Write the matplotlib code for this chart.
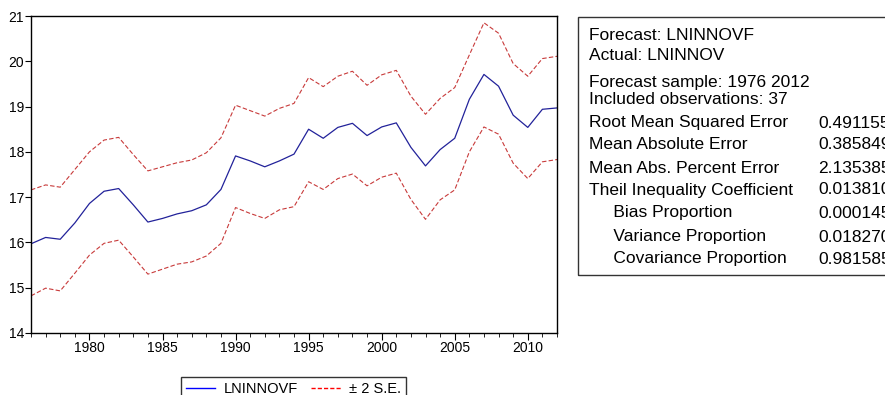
import matplotlib
matplotlib.use('Agg')
import matplotlib.pyplot as plt
from matplotlib.patches import Rectangle
from matplotlib.lines import Line2D
from matplotlib.ticker import MultipleLocator, FixedLocator

plt.rcParams['font.family'] = ['Liberation Sans', 'DejaVu Sans']

# ---- data ----
years = list(range(1976, 2013))
forecast = [15.97, 16.11, 16.07, 16.43, 16.86, 17.13, 17.19, 16.83, 16.45, 16.53,
            16.63, 16.70, 16.83, 17.17, 17.91, 17.80, 17.67, 17.80, 17.95, 18.50,
            18.30, 18.54, 18.63, 18.36, 18.55, 18.64, 18.10, 17.69, 18.05, 18.30,
            19.16, 19.71, 19.45, 18.81, 18.54, 18.94, 18.97]
upper = [17.16, 17.27, 17.22, 17.61, 18.00, 18.26, 18.32, 17.94, 17.58, 17.67,
         17.76, 17.82, 17.98, 18.31, 19.03, 18.91, 18.79, 18.96, 19.07, 19.64,
         19.44, 19.67, 19.78, 19.47, 19.70, 19.80, 19.23, 18.83, 19.18, 19.42,
         20.14, 20.85, 20.62, 19.95, 19.67, 20.06, 20.11]
lower = [14.82, 14.99, 14.93, 15.32, 15.72, 15.98, 16.05, 15.68, 15.30, 15.41,
         15.52, 15.57, 15.70, 15.98, 16.77, 16.64, 16.53, 16.72, 16.79, 17.34,
         17.17, 17.41, 17.51, 17.25, 17.44, 17.53, 16.95, 16.51, 16.94, 17.16,
         18.00, 18.55, 18.39, 17.75, 17.41, 17.78, 17.83]
y_ticks = [14, 15, 16, 17, 18, 19, 20, 21]
x_ticks = [1980, 1985, 1990, 1995, 2000, 2005, 2010]
legend_labels = ['LNINNOVF', '\u00b1 2 S.E.']
header_lines = ['Forecast: LNINNOVF', 'Actual: LNINNOV']
sample_lines = ['Forecast sample: 1976 2012', 'Included observations: 37']
stat_names = ['Root Mean Squared Error', 'Mean Absolute Error',
              'Mean Abs. Percent Error', 'Theil Inequality Coefficient',
              '     Bias Proportion', '     Variance Proportion',
              '     Covariance Proportion']
stat_values = ['0.491155', '0.385849', '2.135385', '0.013810',
               '0.000145', '0.018270', '0.981585']

W, H = 885, 395
fig = plt.figure(figsize=(W / 100, H / 100), dpi=100)

def fx(px):
    return px / W

def fy(py):
    return 1 - py / H

ax = fig.add_axes([fx(31), fy(333), fx(557) - fx(31), fy(16) - fy(333)])
blue = '#22229a'
red = '#c83a3a'
ax.plot(years, forecast, color=blue, lw=0.9)
ax.plot(years, upper, color=red, lw=0.8, ls=(0, (4, 2)))
ax.plot(years, lower, color=red, lw=0.8, ls=(0, (4, 2)))

ax.set_xlim(1976, 2012)
ax.set_ylim(14, 21)
ax.yaxis.set_major_locator(FixedLocator(y_ticks))
ax.xaxis.set_major_locator(FixedLocator(x_ticks))
ax.xaxis.set_minor_locator(MultipleLocator(1))
ax.tick_params(axis='y', direction='out', length=4, width=0.8, labelsize=10, pad=1)
ax.tick_params(axis='x', which='major', direction='out', length=5, width=0.8, labelsize=10, pad=1)
ax.tick_params(axis='x', which='minor', direction='out', length=3, width=0.6)
for s in ax.spines.values():
    s.set_linewidth(1.0)
    s.set_color('black')

handles = [Line2D([], [], color='#0000ff', lw=1.0),
           Line2D([], [], color='#ff0000', lw=1.0, ls=(0, (3, 1.5)))]
leg = fig.legend(handles, legend_labels, loc='upper left',
                 bbox_to_anchor=(fx(181), fy(377)), ncol=2, frameon=True,
                 fancybox=False, edgecolor='black', fontsize=10.5,
                 handlelength=2.0, handletextpad=0.6, columnspacing=0.9,
                 borderpad=0.35, borderaxespad=0)
leg.get_frame().set_linewidth(1.0)

# statistics box
box = Rectangle((fx(578), fy(275)), fx(900) - fx(578), fy(17) - fy(275),
                transform=fig.transFigure, fill=False, edgecolor='#333333', lw=1.0)
fig.patches.append(box)

fs = 12.5
tx = 589
vx = 818
rows_y = [35, 55, 82, 100]
for t, y in zip(header_lines + sample_lines, rows_y):
    fig.text(fx(tx), fy(y), t, fontsize=fs, va='center', ha='left')
stat_y = [123, 145, 168, 190, 213, 237, 259]
for name, val, y in zip(stat_names, stat_values, stat_y):
    fig.text(fx(tx), fy(y), name, fontsize=fs, va='center', ha='left')
    fig.text(fx(vx), fy(y), val, fontsize=fs, va='center', ha='left')

fig.savefig('out.png', dpi=100)
